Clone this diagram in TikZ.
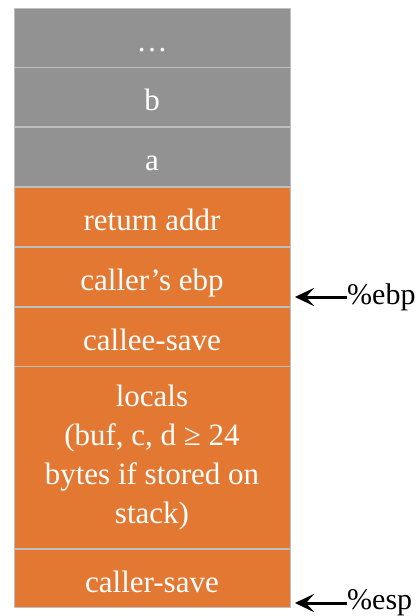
\documentclass[tikz,border=0pt]{standalone}
\usepackage{fontspec}
\setmainfont{Liberation Serif}
\usetikzlibrary{positioning,arrows.meta}
\definecolor{slotgray}{RGB}{145,146,145}
\definecolor{slotorange}{RGB}{227,120,50}
\definecolor{slotline}{RGB}{190,190,190}
\begin{document}
\begin{tikzpicture}[
    slot/.style={
        rectangle, draw=slotline, line width=0.8pt,
        minimum width=276pt, minimum height=59pt,
        text=white, align=center,
        font=\fontsize{31}{39}\selectfont
    },
    oneline/.style={text height=30pt, text depth=3pt},
    argslot/.style={slot, oneline, fill=slotgray},
    frameslot/.style={slot, fill=slotorange},
    reglabel/.style={anchor=west, inner sep=0pt, font=\fontsize{30}{36}\selectfont},
    ptrarrow/.style={-{Stealth[length=19pt, width=18pt, inset=8pt]}, line width=3pt, draw=black},
    ptrshadow/.style={ptrarrow, draw=black!25, fill=black!25}
]
\useasboundingbox (0,0) rectangle (419pt,-616pt);

% Caller's part of the stack
\node[argslot] (dots) at (152pt,-37.5pt) {\dots};
\node[argslot, below=0pt of dots] (b) {b};
\node[argslot, below=0pt of b] (a) {a};

% Current frame
\node[frameslot, oneline, below=0pt of a] (ret) {return addr};
\node[frameslot, oneline, below=0pt of ret] (oldebp) {caller’s ebp};
\node[frameslot, oneline, below=0pt of oldebp] (calleesave) {callee-save};
\node[frameslot, below=0pt of calleesave, minimum height=182pt] (locals)
    {locals\\(buf, c, d ≥ 24\\bytes if stored on\\stack)};
\node[frameslot, oneline, below=0pt of locals, minimum height=58pt] (callersave) {caller-save};

% Register pointers
\node[reglabel] (ebp) at (347pt,-297pt) {\%ebp};
\coordinate (ebptip) at (295pt,-297pt);
\node[reglabel] (esp) at (347pt,-603pt) {\%esp};
\coordinate (esptip) at (295pt,-603pt);

\begin{scope}[shift={(1.5pt,-2pt)}]
  \draw[ptrshadow] (ebp.west) -- (ebptip);
  \draw[ptrshadow] (esp.west) -- (esptip);
\end{scope}
\draw[ptrarrow] (ebp.west) -- (ebptip);
\draw[ptrarrow] (esp.west) -- (esptip);

\end{tikzpicture}
\end{document}
